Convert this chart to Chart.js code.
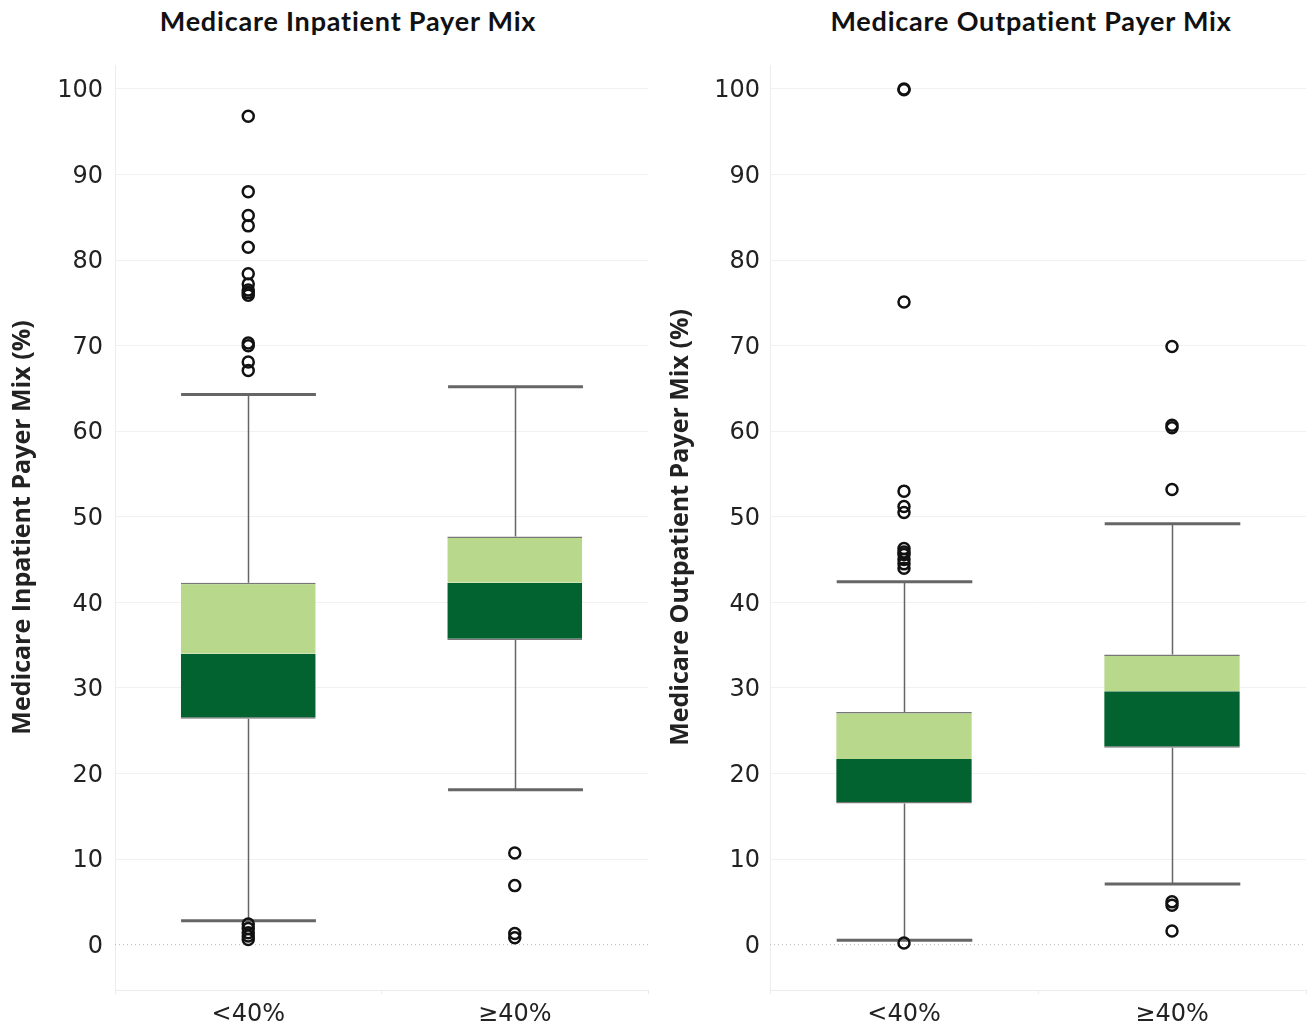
<!DOCTYPE html>
<html>
<head>
<meta charset="utf-8">
<script src="https://cdn.jsdelivr.net/npm/chart.js@4.4.1/dist/chart.umd.min.js"></script>
<style>
  body { margin: 0; background: #fff; width: 1307px; height: 1028px; position: relative; overflow: hidden; }
  .panel { position: absolute; top: 0; height: 1028px; }
  .ttl { position: absolute; top: 4px; font: bold 27px Lato, sans-serif; letter-spacing: 0.8px; color: #111; white-space: nowrap; transform: translateX(-50%); }
</style>
</head>
<body>
<div class="ttl" style="left:348px">Medicare Inpatient Payer Mix</div>
<div class="ttl" style="left:1031px">Medicare Outpatient Payer Mix</div>
<div class="panel" style="left:0;width:656px"><canvas id="ipChart" width="656" height="1028"></canvas></div>
<div class="panel" style="left:653px;width:661px"><canvas id="opChart" width="661" height="1028"></canvas></div>

<script>
// ========================================
// Medicare payer mix box plots
// ========================================

const categories = ['<40%', '≥40%'];
const yTicks = [0, 10, 20, 30, 40, 50, 60, 70, 80, 90, 100];

// Inpatient (per category: <40%, ≥40%)
const ipMin    = [2.8, 18.1];
const ipQ1     = [26.4, 35.6];
const ipMedian = [34.0, 42.3];
const ipQ3     = [42.3, 47.7];
const ipMax    = [64.3, 65.2];
const ipOutliersLow  = [96.8, 88.0, 85.2, 84.0, 81.5, 78.4, 77.2, 76.5, 76.2, 75.9, 70.3, 70.0, 68.1, 67.1, 2.4, 1.9, 1.4, 1.0, 0.6];
const ipOutliersHigh = [10.7, 6.9, 1.3, 0.8];

// Outpatient
const opMin    = [0.5, 7.1];
const opQ1     = [16.5, 23.0];
const opMedian = [21.7, 29.6];
const opQ3     = [27.2, 33.9];
const opMax    = [42.4, 49.2];
const opOutliersLow  = [100, 99.9, 75.1, 53.0, 51.2, 50.5, 46.3, 45.9, 45.6, 45.0, 44.5, 44.0, 0.2];
const opOutliersHigh = [69.9, 60.7, 60.4, 53.2, 5.0, 4.6, 1.6];

const LIGHT_GREEN = '#b8d88b';
const DARK_GREEN = '#036330';
const WHISKER = '#666666';

// whiskers, caps and the dotted zero line
const boxPlotExtras = {
  id: 'boxPlotExtras',
  beforeDatasetsDraw(chart, args, opts) {
    const { ctx, chartArea, scales: { x, y } } = chart;
    ctx.save();
    const y0 = y.getPixelForValue(0);
    ctx.strokeStyle = '#b8b8b8';
    ctx.lineWidth = 1;
    ctx.setLineDash([1, 3]);
    ctx.beginPath();
    ctx.moveTo(chartArea.left, y0);
    ctx.lineTo(chartArea.right, y0);
    ctx.stroke();
    ctx.setLineDash([]);

    const bars = chart.getDatasetMeta(1).data;
    opts.min.forEach((lo, i) => {
      const cx = Math.round(x.getPixelForValue(i)) + 0.5;
      const half = bars[i].width / 2;
      ctx.strokeStyle = WHISKER;
      ctx.lineWidth = 1.5;
      ctx.beginPath();
      ctx.moveTo(cx, y.getPixelForValue(opts.max[i]));
      ctx.lineTo(cx, y.getPixelForValue(opts.q3[i]));
      ctx.moveTo(cx, y.getPixelForValue(opts.q1[i]));
      ctx.lineTo(cx, y.getPixelForValue(lo));
      ctx.stroke();
      ctx.lineWidth = 3;
      ctx.beginPath();
      [opts.max[i], lo].forEach(v => {
        const py = y.getPixelForValue(v);
        ctx.moveTo(cx - half, py);
        ctx.lineTo(cx + half, py);
      });
      ctx.stroke();
    });
    ctx.restore();
  }
};

function makeBoxChart(id, s) {
  const outliers = s.outLow.map(v => ({ x: categories[0], y: v }))
    .concat(s.outHigh.map(v => ({ x: categories[1], y: v })));

  return new Chart(document.getElementById(id), {
    type: 'bar',
    data: {
      labels: categories,
      datasets: [
        {
          type: 'line',
          data: outliers,
          showLine: false,
          pointRadius: 5.5,
          pointBorderWidth: 2.5,
          pointBorderColor: '#111',
          pointBackgroundColor: 'rgba(255,255,255,0)',
          order: 0
        },
        {
          data: s.median.map((m, i) => [m, s.q3[i]]),
          backgroundColor: LIGHT_GREEN,
          borderColor: '#777',
          borderWidth: { top: 1.5, bottom: 0, left: 0, right: 0 },
          borderSkipped: false,
          order: 1
        },
        {
          data: s.q1.map((q, i) => [q, s.median[i]]),
          backgroundColor: DARK_GREEN,
          borderColor: '#777',
          borderWidth: { top: 0, bottom: 1.5, left: 0, right: 0 },
          borderSkipped: false,
          order: 1
        }
      ]
    },
    options: {
      responsive: false,
      animation: false,
      layout: { padding: { top: 65, right: 0, bottom: 0, left: 0 } },
      datasets: { bar: { grouped: false, barPercentage: 0.506, categoryPercentage: 1 } },
      plugins: {
        legend: { display: false },
        tooltip: { enabled: false },
        boxPlotExtras: { min: s.min, q1: s.q1, q3: s.q3, max: s.max }
      },
      scales: {
        x: {
          grid: { color: '#ececec', drawOnChartArea: false, tickLength: 4 },
          border: { color: '#ececec' },
          ticks: { color: '#222', font: { family: 'DejaVu Sans', size: 24 }, padding: 6 },
          afterFit: (scale) => { scale.height = 38; }
        },
        y: {
          min: -5.3,
          max: 102.8,
          afterBuildTicks: (scale) => { scale.ticks = yTicks.map(v => ({ value: v })); },
          afterFit: (scale) => { scale.width = s.axisWidth; },
          grid: {
            color: (c) => c.tick && c.tick.value === 0 ? 'rgba(0,0,0,0)' : '#f1f1f1',
            drawTicks: false
          },
          border: { color: '#ececec' },
          ticks: { color: '#222', font: { family: 'DejaVu Sans', size: 24 }, padding: s.tickPad, labelOffset: 2 },
          title: {
            display: true,
            text: s.yTitle,
            color: '#222',
            font: { family: 'Open Sans', size: 25, weight: 'bold' },
            padding: { top: s.titlePad, bottom: 0 }
          }
        }
      }
    },
    plugins: [boxPlotExtras]
  });
}

makeBoxChart('ipChart', {
  min: ipMin, q1: ipQ1, median: ipMedian, q3: ipQ3, max: ipMax,
  outLow: ipOutliersLow, outHigh: ipOutliersHigh,
  yTitle: 'Medicare Inpatient Payer Mix (%)',
  axisWidth: 115, tickPad: 12, titlePad: 8, padRight: 0
});

makeBoxChart('opChart', {
  min: opMin, q1: opQ1, median: opMedian, q3: opQ3, max: opMax,
  outLow: opOutliersLow, outHigh: opOutliersHigh,
  yTitle: 'Medicare Outpatient Payer Mix (%)',
  axisWidth: 117, tickPad: 10, titlePad: 13, padRight: 0
});
</script>
</body>
</html>
